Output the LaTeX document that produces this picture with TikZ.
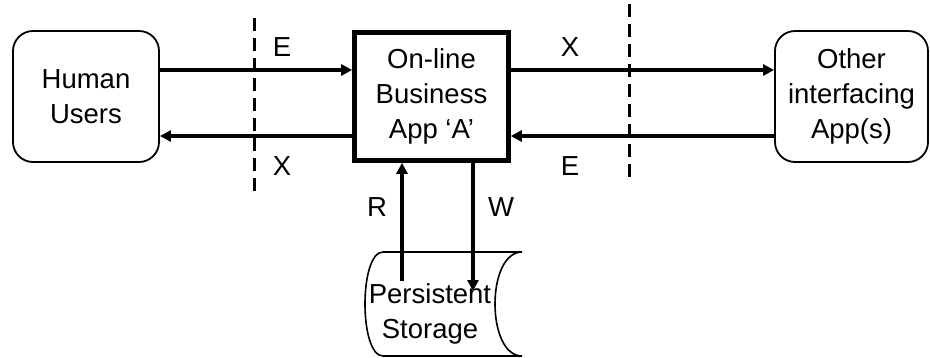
\documentclass[tikz,border=0pt]{standalone}
\usepackage{fontspec}
\setmainfont{Liberation Sans}
\usetikzlibrary{arrows.meta}
\begin{document}
\begin{tikzpicture}[x=1pt,y=-1pt,
  txt/.style={font=\fontsize{27.5}{35}\selectfont, align=center, inner sep=0pt},
  party/.style={txt, draw, line width=1.8pt, rounded corners=20pt},
  appbox/.style={txt, draw, line width=4.6pt},
  flow/.style={line width=3.2pt, -{Triangle[length=11pt,width=11pt]}},
  border/.style={line width=3pt, dash pattern=on 13pt off 7pt},
  lbl/.style={txt}]
  \useasboundingbox (0,0) rectangle (930,357);

  % actors and the application
  \node[party, minimum width=146pt, minimum height=131pt] (hu) at (86,96.5) {Human\\Users};
  \node[appbox, minimum width=154pt, minimum height=128pt] (app) at (431.5,96.5) {On-line\\Business\\App ‘A’};
  \node[party, minimum width=153pt, minimum height=131pt] (oth) at (851.5,96.5) {Other\\interfacing\\App(s)};

  % levels of the two flows
  \coordinate (yin) at (0,70);
  \coordinate (yout) at (0,136);

  % application boundaries
  \coordinate (b1t) at (254,18);
  \coordinate (b1b) at (254,194);
  \coordinate (b2t) at (629,4);
  \coordinate (b2b) at (629,183);
  \draw[border] (b1t) -- (b1b);
  \draw[border] (b2t) -- (b2b);

  % entries and exits
  \draw[flow] (hu.east |- yin) -- (app.west |- yin);
  \draw[flow] (app.west |- yout) -- (hu.east |- yout);
  \draw[flow] (app.east |- yin) -- (oth.west |- yin);
  \draw[flow] (oth.west |- yout) -- (app.east |- yout);

  \node[lbl] (le1) at (282,47) {E};
  \node[lbl] (lx1) at (282,166) {X};
  \node[lbl] (lx2) at (570,47) {X};
  \node[lbl] (le2) at (570,166) {E};

  % persistent storage
  \draw[line width=1.6pt] (383,252) -- (522,252)
    .. controls (486,252) and (486,356) .. (522,356)
    -- (383,356)
    .. controls (359,356) and (359,252) .. (383,252) -- cycle;
  \node[txt] (st) at (430,314) {Persistent\\Storage};

  % reads and writes
  \coordinate (rs) at (402,281);
  \coordinate (we) at (473,291);
  \draw[flow] (rs) -- (rs |- app.south);
  \draw[flow] (we |- app.south) -- (we);
  \node[lbl] (lr) at (377,207) {R};
  \node[lbl] (lw) at (501,207) {W};
\end{tikzpicture}
\end{document}
